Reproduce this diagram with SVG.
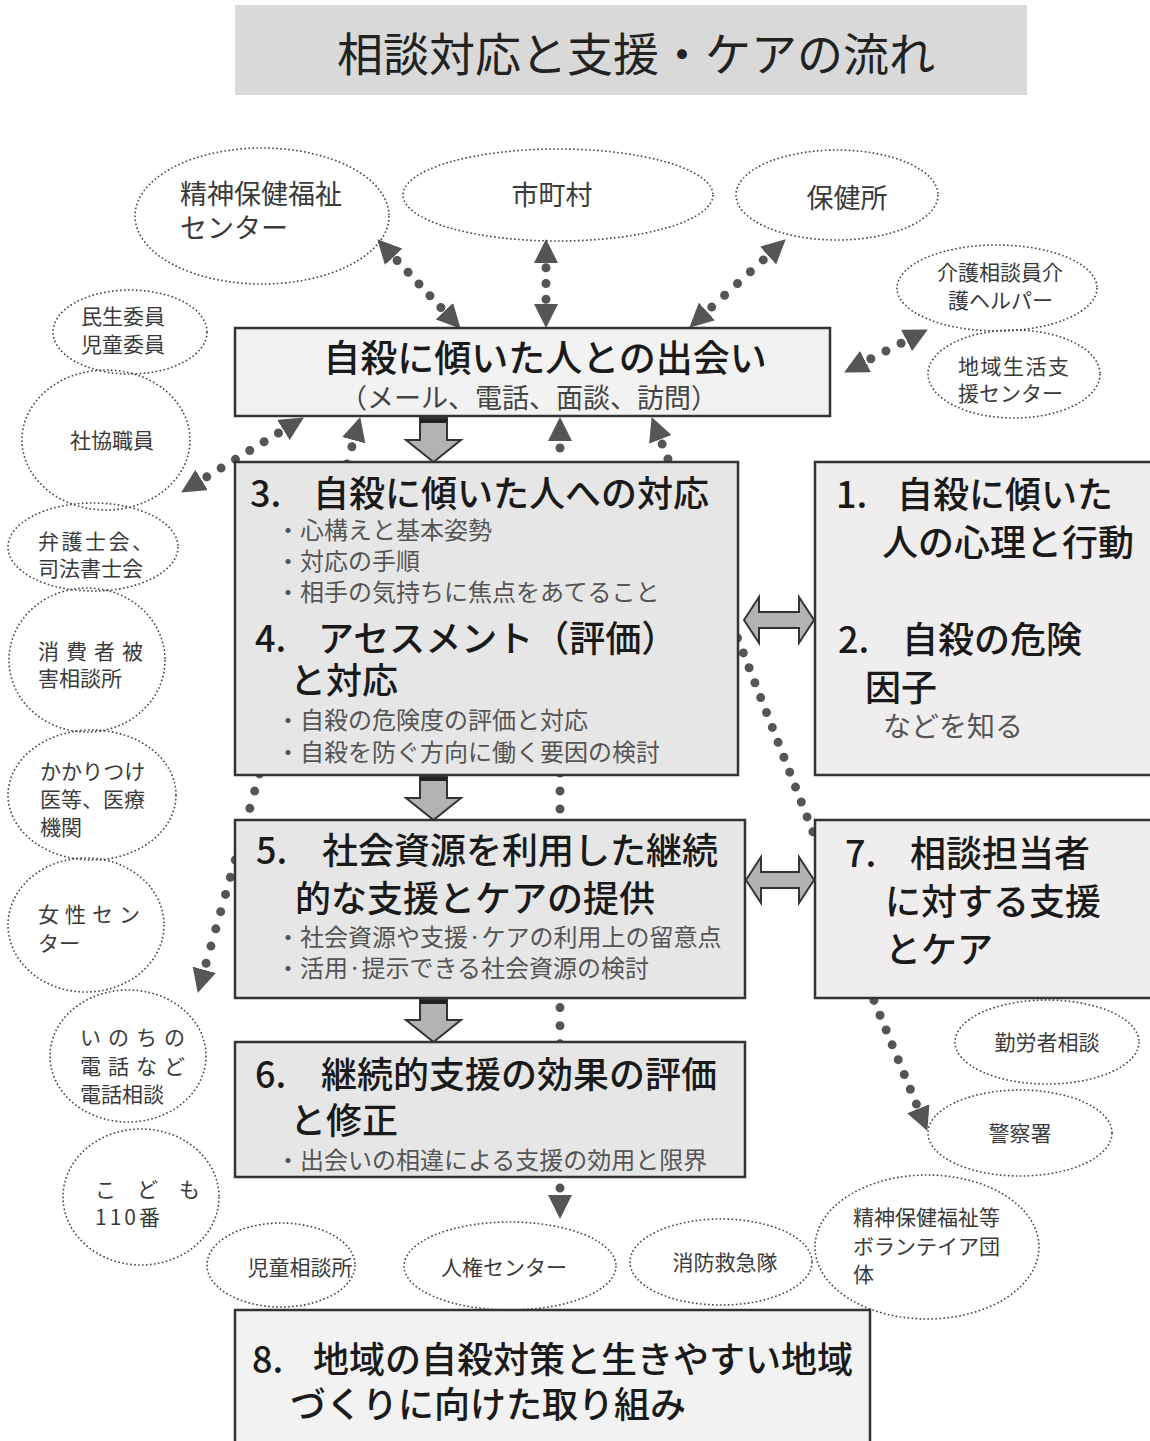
<svg xmlns="http://www.w3.org/2000/svg" width="1150" height="1441" viewBox="0 0 1150 1441">
<style>
text{font-family:"Noto Sans CJK JP","Noto Sans",sans-serif;}
.ell{fill:none;stroke:#444;stroke-width:1.6;stroke-dasharray:1.6 2.4;}
.et{font-size:21px;fill:#3a3a3a;}
.et2{font-size:27px;fill:#3a3a3a;}
.box{stroke:#333;stroke-width:2.5;}
.bt{font-size:36px;fill:#1a1a1a;font-weight:500;}
.bt37{font-size:37px;fill:#1a1a1a;font-weight:500;}
.bl{font-size:24px;fill:#555;}
.dot{fill:none;stroke:#555;stroke-width:9;stroke-linecap:round;}
.blk{fill:#b3b3b3;stroke:#333;stroke-width:2;stroke-linejoin:miter;}
</style>
<defs>
<marker id="ah" viewBox="0 0 24 24" refX="23" refY="12" markerWidth="24" markerHeight="24" markerUnits="userSpaceOnUse" orient="auto-start-reverse">
<path d="M0,0 L24,12 L0,24 z" fill="#555"/>
</marker>
</defs>
<rect x="0" y="0" width="1150" height="1441" fill="#ffffff"/>

<g id="title">
<rect x="235" y="5" width="792" height="90" fill="#d9d9d9"/>
<text x="636" y="71" text-anchor="middle" font-size="46" fill="#222">相談対応と支援・ケアの流れ</text>
</g>

<g id="connectors">
<path class="dot" d="M378,240 L460,328" stroke-dasharray="0 16.05" stroke-dashoffset="4.05" marker-start="url(#ah)" marker-end="url(#ah)"/>
<path class="dot" d="M546,240 L546,327" stroke-dasharray="0 15.75" stroke-dashoffset="3.75" marker-start="url(#ah)" marker-end="url(#ah)"/>
<path class="dot" d="M785,240 L690,327" stroke-dasharray="0 17.47" stroke-dashoffset="5.47" marker-start="url(#ah)" marker-end="url(#ah)"/>
<path class="dot" d="M845,372 L927,330" stroke-dasharray="0 17" stroke-dashoffset="5" marker-start="url(#ah)" marker-end="url(#ah)"/>
<path class="dot" d="M303,418 L182,492" stroke-dasharray="0 16.8" stroke-dashoffset="4.8" marker-start="url(#ah)" marker-end="url(#ah)"/>
<path class="dot" d="M360,418 L198,992" stroke-dasharray="0 17.89" stroke-dashoffset="5.89" marker-start="url(#ah)" marker-end="url(#ah)"/>
<path class="dot" d="M560,418 L560,1218" stroke-dasharray="0 18.05" stroke-dashoffset="6.05" marker-start="url(#ah)" marker-end="url(#ah)"/>
<path class="dot" d="M652,418 L818,845" stroke-dasharray="0 16" stroke-dashoffset="4" marker-start="url(#ah)"/>
<path class="dot" d="M873,998 L927,1130" stroke-dasharray="0 16" stroke-dashoffset="13.4" marker-end="url(#ah)"/>
</g>

<g id="n-seishin"><ellipse class="ell" cx="262" cy="216" rx="127" ry="68"/><text class="et2" x="180" y="204">精神保健福祉</text><text class="et2" x="180" y="238">センター</text></g>
<g id="n-shichoson"><ellipse class="ell" cx="558" cy="195" rx="155" ry="46"/><text class="et2" x="552" y="205" text-anchor="middle">市町村</text></g>
<g id="n-hokenjo"><ellipse class="ell" cx="837" cy="195" rx="101" ry="45"/><text class="et2" x="847" y="208" text-anchor="middle">保健所</text></g>
<g id="n-kaigo"><ellipse class="ell" cx="997" cy="288" rx="100" ry="43"/><text class="et" x="937" y="280">介護相談員介</text><text class="et" x="948" y="308">護ヘルパー</text></g>
<g id="n-chiiki"><ellipse class="ell" cx="1014" cy="374" rx="86" ry="44"/><text class="et" x="958" y="374" letter-spacing="1.5">地域生活支</text><text class="et" x="958" y="401">援センター</text></g>
<g id="n-minsei"><ellipse class="ell" cx="130" cy="332" rx="77" ry="42"/><text class="et" x="81" y="324">民生委員</text><text class="et" x="81" y="352">児童委員</text></g>
<g id="n-shakyo"><ellipse class="ell" cx="106" cy="440" rx="84" ry="70"/><text class="et" x="70" y="448">社協職員</text></g>
<g id="n-bengoshi"><ellipse class="ell" cx="93" cy="547" rx="85" ry="44"/><text class="et" x="38" y="549" letter-spacing="2.5">弁護士会、</text><text class="et" x="38" y="576">司法書士会</text></g>
<g id="n-shohisha"><ellipse class="ell" cx="87" cy="660" rx="78" ry="72"/><text class="et" x="38" y="659" letter-spacing="7">消費者被</text><text class="et" x="38" y="686">害相談所</text></g>
<g id="n-kakaritsuke"><ellipse class="ell" cx="92" cy="795" rx="84" ry="65"/><text class="et" x="40" y="779">かかりつけ</text><text class="et" x="40" y="807">医等、医療</text><text class="et" x="40" y="835">機関</text></g>
<g id="n-josei"><ellipse class="ell" cx="86" cy="925" rx="78" ry="67"/><text class="et" x="38" y="922" letter-spacing="6">女性セン</text><text class="et" x="38" y="951">ター</text></g>
<g id="n-inochi"><ellipse class="ell" cx="128" cy="1056" rx="78" ry="66"/><text class="et" x="80" y="1045" letter-spacing="7">いのちの</text><text class="et" x="80" y="1074" letter-spacing="7">電話など</text><text class="et" x="80" y="1102">電話相談</text></g>
<g id="n-kodomo"><ellipse class="ell" cx="141" cy="1197" rx="78" ry="68"/><text class="et" x="95" y="1197" letter-spacing="21">こども</text><text class="et" x="95" y="1225" letter-spacing="3">110番</text></g>
<g id="n-jido"><ellipse class="ell" cx="281" cy="1265" rx="74" ry="42"/><text class="et" x="300" y="1275" text-anchor="middle">児童相談所</text></g>
<g id="n-jinken"><ellipse class="ell" cx="510" cy="1266" rx="106" ry="44"/><text class="et" x="504" y="1275" text-anchor="middle">人権センター</text></g>
<g id="n-shobo"><ellipse class="ell" cx="721" cy="1262" rx="91" ry="43"/><text class="et" x="725" y="1270" text-anchor="middle">消防救急隊</text></g>
<g id="n-volunteer"><ellipse class="ell" cx="927" cy="1247" rx="112" ry="72"/><text class="et" x="853" y="1225">精神保健福祉等</text><text class="et" x="853" y="1254">ボランテイア団</text><text class="et" x="853" y="1282">体</text></g>
<g id="n-kinrosha"><ellipse class="ell" cx="1047" cy="1042" rx="92" ry="42"/><text class="et" x="1047" y="1050" text-anchor="middle">勤労者相談</text></g>
<g id="n-keisatsu"><ellipse class="ell" cx="1020" cy="1133" rx="92" ry="43"/><text class="et" x="1020" y="1141" text-anchor="middle">警察署</text></g>

<g id="n-deai">
<rect class="box" x="235" y="328" width="595" height="88" fill="#f2f2f2"/>
<text class="bt37" x="545" y="372" text-anchor="middle">自殺に傾いた人との出会い</text>
<text x="529" y="408" font-size="27" fill="#444" text-anchor="middle">（メール、電話、面談、訪問）</text>
</g>

<g id="n-taiou">
<rect class="box" x="235" y="462" width="503" height="313" fill="#e6e6e6"/>
<text class="bt" y="507"><tspan x="250">3.</tspan><tspan x="313">自殺に傾いた人への対応</tspan></text>
<text class="bl" x="276" y="539">・心構えと基本姿勢</text>
<text class="bl" x="276" y="570">・対応の手順</text>
<text class="bl" x="276" y="601">・相手の気持ちに焦点をあてること</text>
<text class="bt" y="652"><tspan x="255">4.</tspan><tspan x="318">アセスメント（評価）</tspan></text>
<text class="bt" x="290" y="694">と対応</text>
<text class="bl" x="276" y="729">・自殺の危険度の評価と対応</text>
<text class="bl" x="276" y="761">・自殺を防ぐ方向に働く要因の検討</text>
</g>

<g id="n-shiru">
<rect class="box" x="815" y="462" width="345" height="313" fill="#efeded"/>
<text class="bt" y="508"><tspan x="836">1.</tspan><tspan x="897">自殺に傾いた</tspan></text>
<text class="bt" x="882" y="556">人の心理と行動</text>
<text class="bt" y="653"><tspan x="838">2.</tspan><tspan x="902">自殺の危険</tspan></text>
<text class="bt" x="865" y="701">因子</text>
<text x="883" y="737" font-size="28" fill="#555">などを知る</text>
</g>

<g id="n-shigen">
<rect class="box" x="235" y="820" width="510" height="178" fill="#e6e6e6"/>
<text class="bt" y="864"><tspan x="256">5.</tspan><tspan x="322">社会資源を利用した継続</tspan></text>
<text class="bt" x="295" y="912">的な支援とケアの提供</text>
<text class="bl" x="276" y="946">・社会資源や支援·ケアの利用上の留意点</text>
<text class="bl" x="276" y="977">・活用·提示できる社会資源の検討</text>
</g>

<g id="n-tantosha">
<rect class="box" x="815" y="820" width="345" height="178" fill="#efeded"/>
<text class="bt" y="867"><tspan x="845">7.</tspan><tspan x="910">相談担当者</tspan></text>
<text class="bt" x="885" y="915">に対する支援</text>
<text class="bt" x="885" y="963">とケア</text>
</g>

<g id="n-hyoka">
<rect class="box" x="235" y="1042" width="510" height="135" fill="#e6e6e6"/>
<text class="bt" y="1088"><tspan x="255">6.</tspan><tspan x="321">継続的支援の効果の評価</tspan></text>
<text class="bt" x="290" y="1134">と修正</text>
<text class="bl" x="276" y="1169">・出会いの相違による支援の効用と限界</text>
</g>

<g id="n-chiikizukuri">
<rect class="box" x="235" y="1310" width="635" height="150" fill="#f2f2f2"/>
<text class="bt" y="1373"><tspan x="252">8.</tspan><tspan x="313">地域の自殺対策と生きやすい地域</tspan></text>
<text class="bt" x="290" y="1418">づくりに向けた取り組み</text>
</g>

<g id="block-arrows">
<polygon class="blk" points="420,418 447,418 447,440 461,440 433.5,462 406,440 420,440"/>
<line x1="420" y1="421" x2="447" y2="421" stroke="#222" stroke-width="4"/>
<polygon class="blk" points="420,776 447,776 447,798 461,798 433.5,820 406,798 420,798"/>
<line x1="420" y1="779" x2="447" y2="779" stroke="#222" stroke-width="4"/>
<polygon class="blk" points="420,999 447,999 447,1020 461,1020 433.5,1042 406,1020 420,1020"/>
<line x1="420" y1="1002" x2="447" y2="1002" stroke="#222" stroke-width="4"/>
<polygon class="blk" points="744,620 759,597 759,612 799,612 799,597 814,620 799,643 799,628 759,628 759,643"/>
<polygon class="blk" points="746,880 761,857 761,872 799,872 799,857 814,880 799,903 799,888 761,888 761,903"/>
</g>
</svg>
